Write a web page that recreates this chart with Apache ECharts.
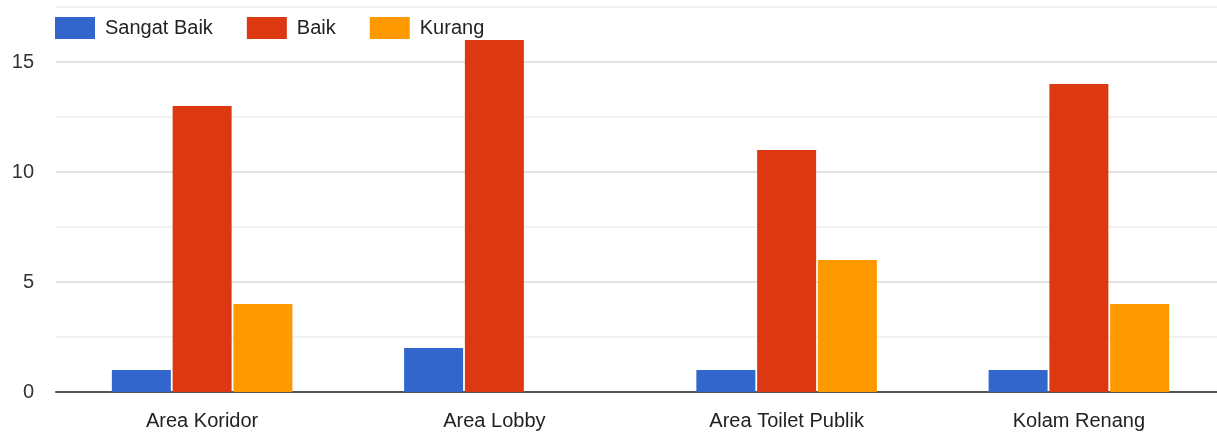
<!DOCTYPE html>
<html>
<head>
<meta charset="utf-8">
<script src="https://cdn.jsdelivr.net/npm/echarts@6/dist/echarts.min.js"></script>
<style>html,body{margin:0;padding:0;background:#fff;overflow:hidden;}#c{width:1225px;height:436px;}</style>
</head>
<body>
<div id="c"></div>
<script>
const categories = ['Area Koridor', 'Area Lobby', 'Area Toilet Publik', 'Kolam Renang'];
const seriesNames = ['Sangat Baik', 'Baik', 'Kurang'];
const sangatBaik = [1, 2, 1, 1];
const baik = [13, 16, 11, 14];
const kurang = [4, 0, 6, 4];
const yTickLabels = [0, 5, 10, 15];

const colors = ['#3366cc', '#dc3912', '#ff9900'];
const values = [sangatBaik, baik, kurang];
const chart = echarts.init(document.getElementById('c'), null, {renderer: 'canvas'});
chart.setOption({
  animation: false,
  color: colors,
  legend: {
    top: 12, left: 50,
    icon: 'rect', itemWidth: 40, itemHeight: 22, itemGap: 34,
    textStyle: {fontFamily: 'Liberation Sans, Arial', fontSize: 20, color: '#222', padding: [0, 0, 0, 5]},
    data: seriesNames
  },
  grid: {left: 56, right: 0, top: 7, bottom: 44, containLabel: false},
  xAxis: {
    type: 'category', data: categories,
    axisLine: {lineStyle: {color: '#555', width: 2}},
    axisTick: {show: false},
    axisLabel: {fontFamily: 'Liberation Sans, Arial', fontSize: 20, color: '#222', margin: 19}
  },
  yAxis: {
    type: 'value', min: 0, max: 17.5, interval: 2.5,
    axisLine: {show: false}, axisTick: {show: false},
    axisLabel: {
      fontFamily: 'Liberation Sans, Arial', fontSize: 20, color: '#333', margin: 22,
      formatter: v => (yTickLabels.indexOf(v) >= 0 ? String(v) : '')
    },
    splitLine: {lineStyle: {color: ['#e2e2e2', '#f2f2f2'], width: 2}}
  },
  series: seriesNames.map((n, i) => ({
    name: n, type: 'bar', data: values[i], barWidth: 59, barGap: '3%',
    itemStyle: {color: colors[i]}
  }))
});
</script>
</body>
</html>
